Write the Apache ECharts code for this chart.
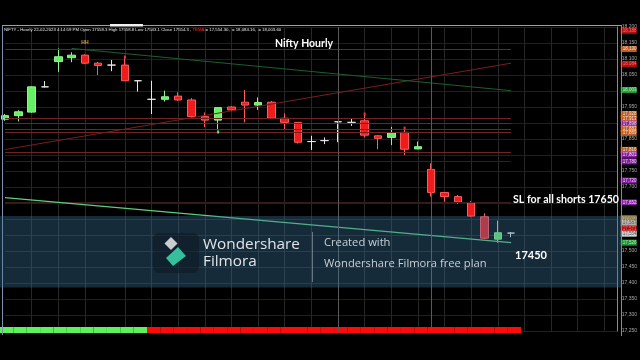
<!DOCTYPE html>
<html><head><meta charset="utf-8">
<script src="https://cdn.jsdelivr.net/npm/echarts@6/dist/echarts.min.js"></script>
<style>html,body{margin:0;padding:0;background:#000}#c{width:640px;height:360px}</style>
</head><body><div id="c"></div><script>
// ---- data ----
const categories = [
 '15-02 12:15','15-02 13:15','15-02 14:15','15-02 15:15',
 '16-02 09:15','16-02 10:15','16-02 11:15','16-02 12:15','16-02 13:15','16-02 14:15','16-02 15:15',
 '17-02 09:15','17-02 10:15','17-02 11:15','17-02 12:15','17-02 13:15','17-02 14:15','17-02 15:15',
 '20-02 09:15','20-02 10:15','20-02 11:15','20-02 12:15','20-02 13:15','20-02 14:15','20-02 15:15',
 '21-02 09:15','21-02 10:15','21-02 11:15','21-02 12:15','21-02 13:15','21-02 14:15','21-02 15:15',
 '22-02 09:15','22-02 10:15','22-02 11:15','22-02 12:15','22-02 13:15','22-02 14:15','22-02 15:15',
 '23-02 09:15','23-02 10:15','23-02 11:15','23-02 12:15','23-02 13:15','23-02 14:15','23-02 15:15',
 '24-02 09:15'];
const opens  = [17912,17923,17934,18013,18092,18104,18112,18087,18081,18081,18032,17974,17974,17984,17972,17920,17909,17950,17965,17956,17965,17915,17902,17842,17845,17904,17902,17907,17860,17855,17871,17819,17755,17683,17670,17651,17607,17537,17556];
const closes = [17923,17935,18013,18013,18107,18112,18087,18080,18081,18032,18032,17974,17982,17972,17920,17909,17948,17941,17956,17964,17915,17902,17840,17842,17845,17904,17902,17862,17852,17870,17818,17826,17683,17670,17653,17609,17540,17557,17556];
const lows   = [17907,17905,17932,18011,18060,18090,18084,18050,18062,18032,17998,17928,17967,17970,17915,17887,17878,17937,17902,17941,17912,17881,17836,17816,17834,17840,17891,17855,17818,17831,17800,17818,17670,17654,17647,17606,17537,17526,17543];
const highs  = [17928,17940,18015,18031,18133,18121,18115,18091,18097,18102,18034,18032,18001,17996,17978,17933,17948,17953,18003,17980,17969,17930,17903,17860,17855,17904,17915,17928,17862,17888,17883,17842,17774,17684,17675,17656,17618,17595,17559];
const trendState = ['up','up','up','up','up','up','up','up','up','up','up',
 'down','down','down','down','down','down','down','down','down','down','down','down','down','down','down','down','down',
 'down','down','down','down','down','down','down','down','down','down','down'];
const levelPrices = [18131,17915,17899,17882,17870,17809];
const faintLevelPrices = [17781,17652];
const redTrendA = [[0,18103],[13,18201]];
const redTrendB = [[0,17817],[38,18087]];
const greenTrendA = [[5,18133],[38,18001]];
const greenTrendB = [[0,17667],[38,17526]];
const tagPrices = [18188,18131,18084,18003,17928,17913,17898,17883,17869,17816,17801,17780,17720,17652,17602,17587,17571,17554,17526];
const tagTexts = ['18,188','18,130','18,084','18,003','17,928','17,913','17,898','17,883','17,869','17,816','17,801','17,780','17,720','17,652','17,602','17,587','17,571','17,554','17,526'];
const tagKinds = ['red','orange','red','green','orange','orange','purple','orange','orange','orange','purple','purple','purple','purple','beige','light','red','white','green'];
const gridLineIdx = [2,4,6,9,11,13,15,17,19,21,23,25,27,29,31,33,35,37,39,41,43,45];
const sessionIdx = [25,32];
const tagColumn = 46;
const yMin = 17250, yMax = 18200, yStep = 50;

// ---- styles ----
const tagStyle = {
  red:{bg:'#e01212',fg:'#ff8a8a'}, orange:{bg:'#e8762c',fg:'#fff'}, purple:{bg:'#a324c4',fg:'#fff'},
  green:{bg:'#22bb44',fg:'#dfffdf'}, beige:{bg:'#d6b97a',fg:'#553'}, light:{bg:'#d8d8d8',fg:'#444'},
  white:{bg:'#f4f4f4',fg:'#333'}
};
const candleData = opens.map((o,i)=>[o, closes[i], lows[i], highs[i]]);
const trendColor = {up:'#5cf25c', down:'#ff0a0a'};

function seg(pair, color, w){
  return [{coord:pair[0], lineStyle:{color:color,width:w,type:'solid'}},{coord:pair[1]}];
}
const markLines = [];
levelPrices.forEach(p=>markLines.push([{coord:[0,p],lineStyle:{color:'#702323',width:1,type:'solid'}},{coord:[38,p]}]));
faintLevelPrices.forEach(p=>markLines.push([{coord:[0,p],lineStyle:{color:'#3c1b1b',width:1,type:'solid'}},{coord:[38,p]}]));
markLines.push(seg(redTrendA,'#c42a2a',1.2));
markLines.push(seg(redTrendB,'#7a1e1e',1));
markLines.push(seg(greenTrendA,'#1d5f2c',1));
markLines.push(seg(greenTrendB,'#5ccf7f',1.2));
sessionIdx.forEach(ix=>markLines.push([{coord:[ix,yMin],lineStyle:{color:'#5a5a5a',width:1,type:'solid'}},{coord:[ix,yMax]}]));

const tagData = tagPrices.map((p,i)=>{
  const s = tagStyle[tagKinds[i]];
  return {value:[tagColumn,p], label:{formatter:tagTexts[i], color:s.fg, backgroundColor:s.bg}};
});

const chart = echarts.init(document.getElementById('c'), null, {renderer:'canvas'});
chart.setOption({
  backgroundColor:'#000',
  animation:false,
  grid:[
    {left:5, right:18.6, top:27, bottom:29},
    {left:-1.7, width:629.8, top:327, height:6}
  ],
  xAxis:[
    {type:'category', data:categories, boundaryGap:false, gridIndex:0,
     axisLine:{show:false}, axisTick:{show:false}, axisLabel:{show:false},
     splitLine:{show:true, interval:(i)=>gridLineIdx.indexOf(i)>=0, lineStyle:{color:'#272727',width:1}}},
    {type:'category', data:categories, boundaryGap:true, gridIndex:1, show:false}
  ],
  yAxis:[
    {type:'value', position:'right', min:yMin, max:yMax, interval:yStep, gridIndex:0,
     axisLine:{show:true, lineStyle:{color:'#8a8a8a'}}, axisTick:{show:false},
     axisLabel:{fontSize:5, color:'#a8a8a8', margin:4, fontFamily:'Liberation Sans',
       formatter:v=>v.toLocaleString('en-US')},
     splitLine:{show:true, lineStyle:{color:'#2b1b1b',width:1}}},
    {type:'value', min:0, max:1, gridIndex:1, show:false}
  ],
  series:[
    {type:'candlestick', xAxisIndex:0, yAxisIndex:0, data:candleData, barWidth:8, clip:false,
     itemStyle:{color:'#66ee66', color0:'#ee1c1c', borderColor:'#8ff58f', borderColor0:'#ff5c5c',
       borderColorDoji:'#e6e6e6', borderWidth:1},
     markLine:{silent:true, symbol:'none', animation:false, label:{show:false}, data:markLines},
     markPoint:{silent:true, symbol:'rect', symbolSize:[2,3], animation:false,
       data:[
        {coord:[6,18150], symbolSize:0.1, label:{show:true,formatter:'HH',color:'#d9a040',fontSize:5,fontWeight:'bold'}},
        {coord:[9,18106], itemStyle:{color:'#ff3030'}, label:{show:false}},
        {coord:[27,17928], itemStyle:{color:'#ff3030'}, label:{show:false}},
        {coord:[30,17884], itemStyle:{color:'#ff3030'}, label:{show:false}},
        {coord:[16,17872], itemStyle:{color:'#5cf25c'}, label:{show:false}}
       ]}
    },
    {type:'scatter', xAxisIndex:0, yAxisIndex:0, data:tagData, symbolSize:1, clip:false, silent:true, z:20,
     itemStyle:{color:'rgba(0,0,0,0)'},
     label:{show:true, position:'right', distance:2.5, fontSize:4.5, lineHeight:5, width:12,
       padding:[0.5,2,0.5,2], fontFamily:'Liberation Sans', align:'left'}},
    {type:'bar', xAxisIndex:1, yAxisIndex:1, barWidth:'100%', barCategoryGap:'0%',
     data:trendState.map(s=>({value:1, itemStyle:{color:trendColor[s]}}))}
  ],
  graphic:[
    {type:'line', shape:{x1:2,y1:25.5,x2:622,y2:25.5}, style:{stroke:'#98a2ac',lineWidth:1}, z:50},
    {type:'rect', shape:{x:110,y:24,width:33,height:2.5}, style:{fill:'#f0f0f0'}, z:51},
    {type:'line', shape:{x1:2.5,y1:25,x2:2.5,y2:335}, style:{stroke:'#7f93b0',lineWidth:1}, z:50},
    {type:'line', shape:{x1:621.5,y1:25,x2:621.5,y2:336}, style:{stroke:'#8a8a8a',lineWidth:1}, z:50},
    {type:'text', left:4, top:28, z:60, style:{
      text:'NIFTY - Hourly 22-02-2023 4:14:59 PM Open 17558.3 High 17558.8 Low 17543.1 Close 17554.3 , {r|TEMA} = 17,554.30,  = 18,084.16,  = 18,003.60',
      fill:'#e8e8e8', font:'4.3px "Liberation Sans"', rich:{r:{fill:'#ff3030',font:'4.3px "Liberation Sans"'}}}},
    {type:'text', x:304, y:44, z:60, style:{text:'Nifty Hourly', fill:'#fff', font:'bold 10.5px Lato', align:'center', verticalAlign:'middle'}},
    {type:'text', x:513, y:200, z:60, style:{text:'SL for all shorts 17650', fill:'#fff', font:'bold 10.6px Lato', verticalAlign:'middle'}},
    {type:'rect', shape:{x:0,y:216,width:621,height:71.5}, style:{fill:'rgba(62,120,160,0.36)'}, z:100},
    {type:'text', x:515, y:255, z:102, style:{text:'17450', fill:'#fff', font:'bold 11px Lato', verticalAlign:'middle'}},
    {type:'rect', shape:{x:153,y:233,width:46,height:40,r:6}, style:{fill:'rgba(12,24,32,0.55)'}, z:101},
    {type:'polygon', shape:{points:[[171,237],[177.5,243.5],[171,250],[164.5,243.5]]}, style:{fill:'#c9cdd0'}, z:102},
    {type:'polygon', shape:{points:[[178,247],[186,256],[173,266],[166,258]]}, style:{fill:'#36bf9e'}, z:102},
    {type:'text', x:203, y:245, z:102, style:{text:'Wondershare', fill:'#dfe4e8', font:'15.3px "Open Sans"', verticalAlign:'middle'}},
    {type:'text', x:203, y:261.5, z:102, style:{text:'Filmora', fill:'#dfe4e8', font:'15.3px "Open Sans"', verticalAlign:'middle'}},
    {type:'line', shape:{x1:312.5,y1:232,x2:312.5,y2:282}, style:{stroke:'rgba(200,210,220,0.45)',lineWidth:1}, z:102},
    {type:'text', x:324, y:243, z:102, style:{text:'Created with', fill:'#c8d0d6', font:'11.2px "Open Sans"', verticalAlign:'middle'}},
    {type:'text', x:324, y:263.5, z:102, style:{text:'Wondershare Filmora free plan', fill:'#c8d0d6', font:'11.2px "Open Sans"', verticalAlign:'middle'}}
  ]
});
</script></body></html>
